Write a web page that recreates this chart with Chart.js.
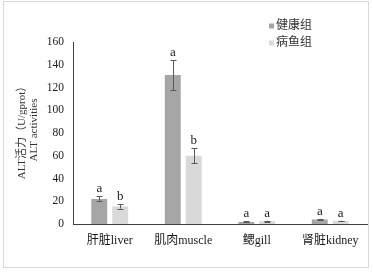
<!DOCTYPE html>
<html>
<head>
<meta charset="utf-8">
<script src="https://cdn.jsdelivr.net/npm/chart.js@4.4.1/dist/chart.umd.min.js"></script>
<style>
  html, body { margin: 0; padding: 0; background: #fff; }
  #wrap { width: 373px; height: 272px; }
</style>
</head>
<body>
<div id="wrap"><canvas id="c" width="373" height="272"></canvas></div>
<script>
// data
const categories = ['肝脏liver', '肌肉muscle', '鳃gill', '肾脏kidney'];
const seriesNames = ['健康组', '病鱼组'];
const healthy = [22, 131, 1.8, 4];
const healthyErr = [2.2, 13, 0.4, 0.5];
const diseased = [15.5, 60, 2.5, 2.6];
const diseasedErr = [2, 6.5, 0.4, 0.4];
const healthySig = ['a', 'a', 'a', 'a'];
const diseasedSig = ['b', 'b', 'a', 'a'];
const yTicks = [0, 20, 40, 60, 80, 100, 120, 140, 160];
const yTitle = ['ALT活力（U/gprot）', 'ALT activities'];

const FONT = "'Liberation Serif', 'Times New Roman', 'Noto Sans CJK SC', serif";
const colors = ['#a6a6a6', '#d9d9d9'];

// error bars, significance letters, legend, y title, frame
const extras = {
  id: 'extras',
  beforeDraw(chart) {
    const ctx = chart.ctx;
    ctx.save();
    ctx.strokeStyle = '#d9d9d9';
    ctx.lineWidth = 1;
    ctx.strokeRect(3.5, 1.5, 365, 266);
    ctx.restore();
  },
  afterDatasetsDraw(chart) {
    const ctx = chart.ctx;
    const y = chart.scales.y;
    const errs = [healthyErr, diseasedErr];
    const sigs = [healthySig, diseasedSig];
    ctx.save();
    chart.data.datasets.forEach((ds, i) => {
      const meta = chart.getDatasetMeta(i);
      meta.data.forEach((bar, j) => {
        const v = ds.data[j];
        const e = errs[i][j];
        const top = y.getPixelForValue(v + e);
        const bot = y.getPixelForValue(v - e);
        const x = Math.round(bar.x) + 0.5;
        ctx.strokeStyle = '#595959';
        ctx.lineWidth = 1;
        ctx.beginPath();
        ctx.moveTo(x, top); ctx.lineTo(x, bot);
        ctx.moveTo(x - 3, Math.round(top) + 0.5); ctx.lineTo(x + 3, Math.round(top) + 0.5);
        ctx.moveTo(x - 3, Math.round(bot) + 0.5); ctx.lineTo(x + 3, Math.round(bot) + 0.5);
        ctx.stroke();
        ctx.fillStyle = '#1a1a1a';
        ctx.font = '13px ' + FONT;
        ctx.textAlign = 'center';
        ctx.textBaseline = 'alphabetic';
        ctx.fillText(sigs[i][j], bar.x, top - 4);
      });
    });

    // legend
    ctx.font = '12px ' + FONT;
    ctx.textAlign = 'left';
    ctx.textBaseline = 'middle';
    seriesNames.forEach((name, i) => {
      const cy = 26 + i * 17;
      ctx.fillStyle = colors[i];
      ctx.fillRect(269, cy - 2.5, 5, 5);
      ctx.fillStyle = '#333';
      ctx.fillText(name, 276, cy);
    });

    // y axis title (two lines, rotated)
    const area = chart.chartArea;
    const cy = (area.top + area.bottom) / 2 - 3;
    ctx.fillStyle = '#333';
    ctx.font = '11px ' + FONT;
    ctx.textAlign = 'center';
    ctx.textBaseline = 'middle';
    [22, 34].forEach((cx, k) => {
      ctx.save();
      ctx.translate(cx, cy);
      ctx.rotate(-Math.PI / 2);
      ctx.fillText(yTitle[k], 0, 0);
      ctx.restore();
    });
    ctx.restore();
  }
};

new Chart(document.getElementById('c'), {
  type: 'bar',
  data: {
    labels: categories,
    datasets: [
      { label: seriesNames[0], data: healthy, backgroundColor: colors[0] },
      { label: seriesNames[1], data: diseased, backgroundColor: colors[1] }
    ]
  },
  options: {
    responsive: false,
    animation: false,
    devicePixelRatio: 1,
    layout: { padding: { left: 0, top: 42, right: 6, bottom: 0 } },
    categoryPercentage: 0.57,
    barPercentage: 0.76,
    plugins: { legend: { display: false }, tooltip: { enabled: false } },
    scales: {
      x: {
        grid: { display: false, drawTicks: false },
        border: { display: true, color: '#404040', width: 1 },
        ticks: { color: '#1a1a1a', padding: 10, font: { family: FONT, size: 12 } },
        afterFit(scale) { scale.height = 48; }
      },
      y: {
        min: 0, max: 160,
        afterBuildTicks(scale) { scale.ticks = yTicks.map(v => ({ value: v })); },
        grid: { display: false, drawTicks: false },
        border: { display: true, color: '#404040', width: 1 },
        ticks: { color: '#1a1a1a', padding: 9, font: { family: FONT, size: 11.5 } },
        afterFit(scale) { scale.width = 73; }
      }
    }
  },
  plugins: [extras]
});
</script>
</body>
</html>
